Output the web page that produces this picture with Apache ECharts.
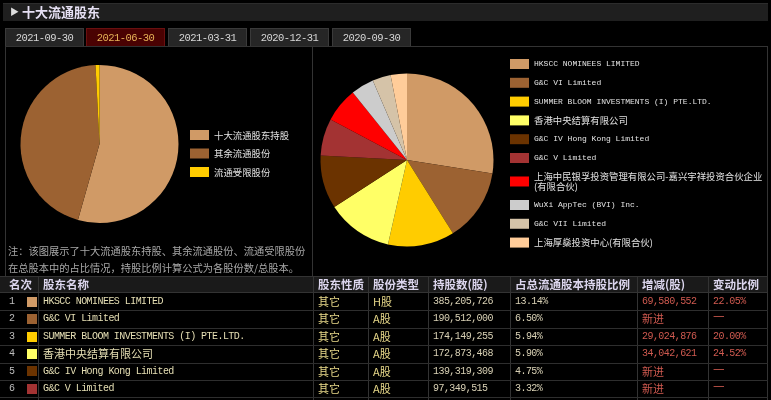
<!DOCTYPE html>
<html><head><meta charset="utf-8">
<script src="https://cdn.jsdelivr.net/npm/echarts@6/dist/echarts.min.js"></script>
<style>
html,body{margin:0;padding:0;background:#000;width:771px;height:400px;overflow:hidden;font-family:"Noto Sans CJK SC",sans-serif;}
#chart{position:absolute;left:0;top:0;width:771px;height:400px;z-index:1}
.a{position:absolute;z-index:2;white-space:nowrap;box-sizing:border-box}
.mono{font-family:"Liberation Mono",monospace;letter-spacing:-0.55px}
</style></head>
<body>
<div id="chart"></div>
<div id="ui"></div>
<script>
// ---------- data ----------
const panelTitle = '十大流通股东';
const tabDates = ['2021-09-30','2021-06-30','2021-03-31','2020-12-31','2020-09-30'];
const selectedTab = 1;
const structNames = ['十大流通股东持股','其余流通股份','流通受限股份'];
const structValues = [54.4, 44.8, 0.8];
const holderNames = ['HKSCC NOMINEES LIMITED','G&C VI Limited','SUMMER BLOOM INVESTMENTS (I) PTE.LTD.','香港中央结算有限公司','G&C IV Hong Kong Limited','G&C V Limited','上海中民银孚投资管理有限公司-嘉兴宇祥投资合伙企业(有限合伙)','WuXi AppTec (BVI) Inc.','G&C VII Limited','上海厚燊投资中心(有限合伙)'];
const holderShares = [385205726,190512000,174149255,172873468,139319309,97349515,90500000,60300000,48000000,42600000];
const noteLines = ['注：该图展示了十大流通股东持股、其余流通股份、流通受限股份','在总股本中的占比情况，持股比例计算公式为各股份数/总股本。'];
const tableHeaders = ['名次','股东名称','股东性质','股份类型','持股数(股)','占总流通股本持股比例','增减(股)','变动比例'];
const tableRanks = [1,2,3,4,5,6];
const tableNatures = ['其它','其它','其它','其它','其它','其它'];
const tableTypes = ['H股','A股','A股','A股','A股','A股'];
const tableShares = ['385,205,726','190,512,000','174,149,255','172,873,468','139,319,309','97,349,515'];
const tableRatios = ['13.14%','6.50%','5.94%','5.90%','4.75%','3.32%'];
const tableChanges = ['69,580,552','新进','29,024,876','34,042,621','新进','新进'];
const tableChangeRatios = ['22.05%','—','20.00%','24.52%','—','—'];

// ---------- styles ----------
const structColors = ['#d09a66','#9c6232','#ffcc00'];
const holderColors = ['#d09a66','#9c6232','#ffcc00','#ffff66','#6b3300','#a33333','#ff0000','#cccccc','#d5c3a8','#ffcc99'];

const ui = document.getElementById('ui');
function el(css, html, cls){const d=document.createElement('div');d.className='a '+(cls||'');d.style.cssText=css;if(html!==undefined)d.innerHTML=html;ui.appendChild(d);return d;}
const isCJK = s => /[\u4e00-\u9fff\u2014]/.test(s);

// header bar
el('left:3px;top:3px;width:765px;height:18px;background:#1f1f1f;border-top:1px solid #2c2c2c;');
el('left:10px;top:5px;font-size:9px;color:#ddd;line-height:14px;','▶');
el('left:22px;top:3px;font-size:13px;font-weight:bold;color:#e6e0f4;line-height:18px;', panelTitle);

// tabs
const tabLeft=[5,86,168,250,332];
tabDates.forEach((t,i)=>{
  const sel=i===selectedTab;
  el(`left:${tabLeft[i]}px;top:28px;width:79px;height:19px;background:${sel?'#4a0202':'#262626'};border:1px solid ${sel?'#6a1010':'#3a3a3a'};border-bottom:none;color:${sel?'#e8b458':'#d8d8d8'};font-size:10.5px;line-height:18px;text-align:center;`, t, 'mono');
});
// panel frame
el('left:5px;top:46px;width:763px;height:231px;border:1px solid #333;border-bottom:none;');
el('left:312px;top:46px;width:1px;height:231px;background:#333;');

// note
noteLines.forEach((t,i)=>el(`left:8px;top:${242+i*17}px;font-size:10.25px;color:#a8a8a8;line-height:17px;`, t));

// table
const colX=[0,38,313,368,428,510,637,708,767];
const headTop=276, headH=17, rowH=17.4;
el(`left:0px;top:${headTop}px;width:768px;height:${headH}px;background:#1a1a1a;border-top:1px solid #333;border-bottom:1px solid #333;`);
tableHeaders.forEach((h,i)=>{
  el(`left:${colX[i]+(i===0?9:5)}px;top:${headTop}px;font-size:11.5px;font-weight:bold;color:#dcd6ee;line-height:17px;`, h);
});
for(let c=1;c<colX.length;c++) el(`left:${colX[c]}px;top:${headTop}px;width:1px;height:${400-headTop}px;background:#333;`);
tableRanks.forEach((r,i)=>{
  const y=headTop+headH+i*rowH;
  el(`left:0px;top:${(y+rowH).toFixed(1)}px;width:768px;height:1px;background:#2e2e2e;`);
  const cell=(c,txt,color,dy,extra)=>{
    const cj=isCJK(txt);
    el(`left:${colX[c]+5}px;top:${(y+(dy||0)).toFixed(1)}px;height:${rowH}px;line-height:${rowH}px;color:${color};font-size:${cj?11:10}px;${extra||''}`, txt.replace(/&/g,'&amp;'), cj?'':'mono');
  };
  el(`left:9px;top:${y.toFixed(1)}px;line-height:${rowH}px;color:#bdbdbd;font-size:10px;`, String(r),'mono');
  el(`left:27px;top:${(y+3.7).toFixed(1)}px;width:10px;height:10px;background:${holderColors[i]};`);
  cell(1,holderNames[i],'#e6dfb4');
  cell(2,tableNatures[i],'#e8d98a');
  cell(3,tableTypes[i],'#e8d98a');
  cell(4,tableShares[i],'#d8d0b4');
  cell(5,tableRatios[i],'#d8d0b4');
  cell(6,tableChanges[i],'#d05a50');
  const isDash = tableChangeRatios[i]==='—';
  cell(7,tableChangeRatios[i],'#d05a50', isDash?-4:0, isDash?'font-size:13px;':'');
});

// ---------- charts ----------
const chart = echarts.init(document.getElementById('chart'), null, {renderer:'canvas'});
const richStyles = {
  c:{fontFamily:'Noto Sans CJK SC',fontSize:9.4,color:'#e2e2e2',lineHeight:10},
  e:{fontFamily:'Liberation Mono',fontSize:8,color:'#e2e2e2',lineHeight:10}
};
function fmt(name){
  if(!isCJK(name)) return '{e|'+name+'}';
  const idx=name.indexOf('(有限合伙)');
  if(name.length>20 && idx>0) return '{c|'+name.slice(0,idx)+'}\n{c|'+name.slice(idx)+'}';
  return '{c|'+name+'}';
}
chart.setOption({
  backgroundColor:'transparent',
  animation:false,
  legend:[
    {data:structNames,orient:'vertical',left:190,top:130,padding:0,itemWidth:19,itemHeight:10,itemGap:8.5,icon:'rect',
     formatter:n=>'{c|'+n+'}',textStyle:{rich:richStyles}},
    {data:holderNames,orient:'vertical',left:510,top:59,padding:0,itemWidth:19,itemHeight:10,itemGap:8.8,icon:'rect',
     formatter:fmt,textStyle:{rich:richStyles}}
  ],
  series:[
    {type:'pie',center:[99.5,144],radius:79,startAngle:90,clockwise:true,label:{show:false},labelLine:{show:false},
     itemStyle:{borderWidth:0},emphasis:{scale:false},
     data:structNames.map((n,i)=>({name:n,value:structValues[i],itemStyle:{color:structColors[i]}}))},
    {type:'pie',center:[407,160],radius:86.5,startAngle:90,clockwise:true,label:{show:false},labelLine:{show:false},
     itemStyle:{borderWidth:0},emphasis:{scale:false},
     data:holderNames.map((n,i)=>({name:n,value:holderShares[i],itemStyle:{color:holderColors[i]}}))}
  ]
});
</script>
</body></html>
